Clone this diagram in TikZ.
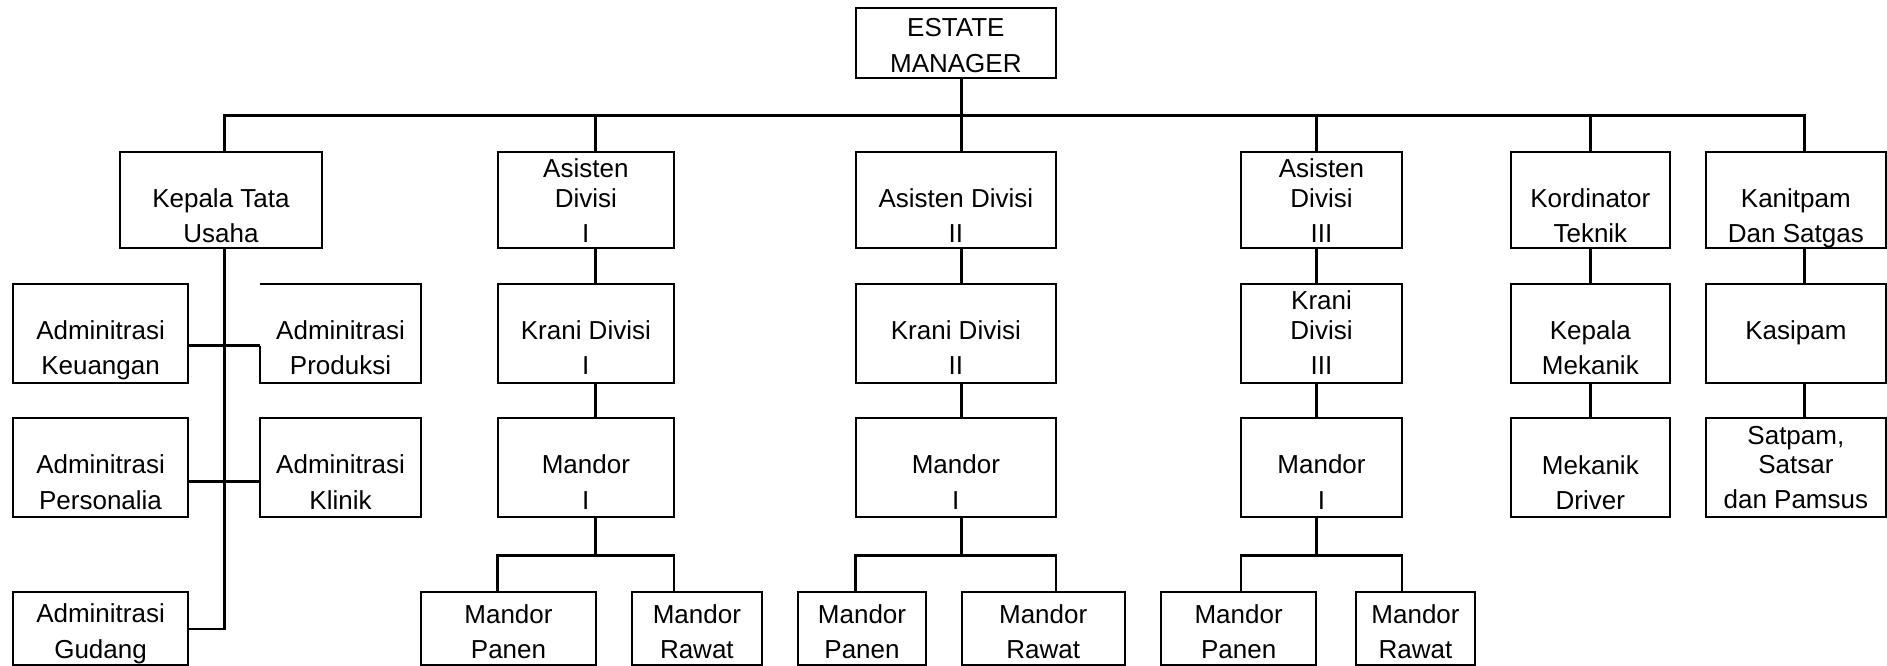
\documentclass[tikz,border=0pt]{standalone}
\usepackage{fontspec}
\setmainfont{Liberation Sans}
\tikzset{
  boxst/.style={draw, line width=2pt, inner sep=0pt, outer sep=0pt, anchor=north west},
  boxnd/.style={inner sep=0pt, outer sep=0pt, anchor=north west},
  conn/.style={line width=2.7pt, line join=miter},
  edgeline/.style={line width=2pt}
}
% #1 style, #2 name, #3 left, #4 top, #5 right, #6 bottom, #7 first baseline, #8 text
\newcommand{\obox}[8]{%
  \node[#1] (#2) at (#3,#4) {\parbox[t][\dimexpr #6pt-#4pt\relax][t]{\dimexpr #5pt-#3pt\relax}{\centering\fontsize{26}{35.5}\selectfont\rule{0pt}{#7pt}#8}};}
\begin{document}
\begin{tikzpicture}[x=1pt,y=-1pt]
\useasboundingbox (0,0) rectangle (1887,666);
% row 0
\obox{boxst}{EM}{855.7}{7.7}{1056}{78.3}{29}{ESTATE\\MANAGER}
% row 1
\obox{boxst}{KTU}{119.8}{152}{322.1}{247.7}{55.5}{Kepala Tata\\Usaha}
\obox{boxst}{AsI}{497.7}{152}{674}{247.7}{25.3}{Asisten\\[-5.5pt]Divisi\\I}
\obox{boxst}{AsII}{855.7}{152}{1056}{247.7}{55.5}{Asisten Divisi\\II}
\obox{boxst}{AsIII}{1241}{152}{1402}{247.7}{25.3}{Asisten\\[-5.5pt]Divisi\\III}
\obox{boxst}{Kord}{1510.7}{152}{1670}{247.7}{55.5}{Kordinator\\Teknik}
\obox{boxst}{Kanit}{1705.7}{152}{1886}{247.7}{55.5}{Kanitpam\\Dan Satgas}
% row 2
\obox{boxst}{Keu}{12.9}{283.7}{188.2}{383}{55.5}{Adminitrasi\\Keuangan}
\obox{boxnd}{Prod}{260}{283.7}{421}{383}{55.5}{Adminitrasi\\Produksi}
\obox{boxst}{KrI}{497.7}{283.7}{674}{383}{55.5}{Krani Divisi\\I}
\obox{boxst}{KrII}{855.7}{283.7}{1056}{383}{55.5}{Krani Divisi\\II}
\obox{boxst}{KrIII}{1241}{283.7}{1402}{383}{25.3}{Krani\\[-5.5pt]Divisi\\III}
\obox{boxst}{KepMek}{1510.7}{283.7}{1670}{383}{55.5}{Kepala\\Mekanik}
\obox{boxst}{Kasi}{1705.7}{283.7}{1886}{383}{55.5}{Kasipam}
% row 3
\obox{boxst}{Pers}{12.9}{418}{188.2}{517.3}{55.5}{Adminitrasi\\Personalia}
\obox{boxst}{Klin}{260}{418}{421}{517.3}{55.5}{Adminitrasi\\Klinik}
\obox{boxst}{MdI}{497.7}{418}{674}{517.3}{55.5}{Mandor\\I}
\obox{boxst}{MdII}{855.7}{418}{1056}{517.3}{55.5}{Mandor\\I}
\obox{boxst}{MdIII}{1241}{418}{1402}{517.3}{55.5}{Mandor\\I}
\obox{boxst}{MekDr}{1510.7}{418}{1670}{517.3}{56}{Mekanik\\Driver}
\obox{boxst}{Satp}{1705.7}{418}{1886}{517.3}{26.3}{Satpam,\\[-6.5pt]Satsar\\dan Pamsus}
% row 4
\obox{boxst}{Gud}{12.9}{591.7}{188.2}{665}{31}{Adminitrasi\\Gudang}
\obox{boxst}{PnI}{420.7}{591.7}{596.3}{665}{31.5}{Mandor\\Panen}
\obox{boxst}{RwI}{631.7}{591.7}{762}{665}{31.5}{Mandor\\Rawat}
\obox{boxst}{PnII}{798}{591.7}{926}{665}{31.5}{Mandor\\Panen}
\obox{boxst}{RwII}{961.7}{591.7}{1124.7}{665}{31.5}{Mandor\\Rawat}
\obox{boxst}{PnIII}{1161}{591.7}{1316.3}{665}{31.5}{Mandor\\Panen}
\obox{boxst}{RwIII}{1356}{591.7}{1475}{665}{31.5}{Mandor\\Rawat}
% connector positions
\coordinate (xK) at (224.5,0);
\coordinate (xI) at (595.7,0);
\coordinate (xII) at (961.3,0);
\coordinate (xIII) at (1316.7,0);
\coordinate (xT) at (1590.5,0);
\coordinate (xS) at (1804.7,0);
\coordinate (busy) at (0,115.5);
\coordinate (bry) at (0,555.7);
\coordinate (ky) at (0,345.7);
\coordinate (py) at (0,481.7);
\coordinate (gy) at (0,629);
% top bus
\draw[conn] (KTU.north -| xK) -- (xK |- busy) -- (xS |- busy) -- (Kanit.north -| xS);
\draw[conn] (EM.south -| xII) -- (AsII.north -| xII);
\draw[conn] (xI |- busy) -- (AsI.north -| xI);
\draw[conn] (xIII |- busy) -- (AsIII.north -| xIII);
\draw[conn] (xT |- busy) -- (Kord.north -| xT);
% columns
\draw[conn] (AsI.south -| xI) -- (KrI.north -| xI);
\draw[conn] (KrI.south -| xI) -- (MdI.north -| xI);
\draw[conn] (AsII.south -| xII) -- (KrII.north -| xII);
\draw[conn] (KrII.south -| xII) -- (MdII.north -| xII);
\draw[conn] (AsIII.south -| xIII) -- (KrIII.north -| xIII);
\draw[conn] (KrIII.south -| xIII) -- (MdIII.north -| xIII);
\draw[conn] (Kord.south -| xT) -- (KepMek.north -| xT);
\draw[conn] (KepMek.south -| xT) -- (MekDr.north -| xT);
\draw[conn] (Kanit.south -| xS) -- (Kasi.north -| xS);
\draw[conn] (Kasi.south -| xS) -- (Satp.north -| xS);
% mandor branches
\draw[conn] (MdI.south -| xI) -- (xI |- bry);
\draw[conn] (PnI.north -| MdI.west) -- (MdI.west |- bry) -- (MdI.east |- bry) -- (RwI.north -| MdI.east);
\draw[conn] (MdII.south -| xII) -- (xII |- bry);
\draw[conn] (PnII.north -| MdII.west) -- (MdII.west |- bry) -- (MdII.east |- bry) -- (RwII.north -| MdII.east);
\draw[conn] (MdIII.south -| xIII) -- (xIII |- bry);
\draw[conn] (PnIII.north -| MdIII.west) -- (MdIII.west |- bry) -- (MdIII.east |- bry) -- (RwIII.north -| MdIII.east);
% tata usaha
\draw[conn] (KTU.south -| xK) -- (xK |- gy) -- (Gud.east |- gy);
\draw[conn] (Keu.east |- ky) -- (Prod.west |- ky);
\draw[conn] (Pers.east |- py) -- (Klin.west |- py);
\draw[edgeline] (Prod.west |- ky) -- (Prod.south west) -- (Prod.south east) -- (Prod.north east) -- (Prod.north west);
\end{tikzpicture}
\end{document}
